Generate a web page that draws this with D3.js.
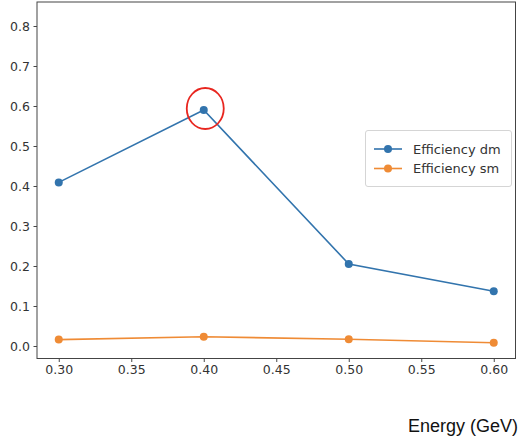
<!DOCTYPE html>
<html><head><meta charset="utf-8">
<script src="https://cdn.jsdelivr.net/npm/d3@7"></script>
<style>body{margin:0;background:#fff}svg{display:block}</style>
</head><body>
<svg id="c" width="519" height="440"></svg>
<script>
const energy = [0.30, 0.40, 0.50, 0.60];
const effDm = [0.409, 0.590, 0.205, 0.137];
const effSm = [0.016, 0.023, 0.017, 0.008];
const seriesNames = ["Efficiency dm", "Efficiency sm"];
const xTicks = [0.30, 0.35, 0.40, 0.45, 0.50, 0.55, 0.60];
const yTicks = [0.0, 0.1, 0.2, 0.3, 0.4, 0.5, 0.6, 0.7, 0.8];
const colors = ["#3274ad", "#ef8b35"];

const svg = d3.select("#c");
const L = 37, R = 515.5, T = 2, B = 358.5;
const x = d3.scaleLinear().domain([0.285, 0.615]).range([L, R]);
const y = d3.scaleLinear().domain([-0.03125, 0.86]).range([B, T]);
const font = "DejaVu Sans, sans-serif";

const xAxis = svg.append("g").attr("transform", `translate(0,${B})`)
  .call(d3.axisBottom(x).tickValues(xTicks).tickFormat(d3.format(".2f")).tickSize(3.5).tickPadding(3.5));
const yAxis = svg.append("g").attr("transform", `translate(${L},0)`)
  .call(d3.axisLeft(y).tickValues(yTicks).tickFormat(d3.format(".1f")).tickSize(3.5).tickPadding(3.5));
[xAxis, yAxis].forEach(a => {
  a.select(".domain").remove();
  a.selectAll(".tick line").attr("stroke", "#333").attr("stroke-width", 0.9);
  a.selectAll(".tick text").attr("fill", "#333").style("font-family", font).style("font-size", "12.5px");
});

svg.append("rect").attr("x", L).attr("y", T).attr("width", R - L).attr("height", B - T)
  .attr("fill", "none").attr("stroke", "#444").attr("stroke-width", 1);

const series = [effDm, effSm];
const line = d3.line().x((d, i) => x(energy[i])).y(d => y(d));
series.forEach((s, k) => {
  svg.append("path").datum(s).attr("d", line).attr("fill", "none")
    .attr("stroke", colors[k]).attr("stroke-width", 1.6);
  svg.selectAll(null).data(s).enter().append("circle")
    .attr("cx", (d, i) => x(energy[i])).attr("cy", d => y(d)).attr("r", 4)
    .attr("fill", colors[k]);
});

// red highlight ellipse around the peak
svg.append("ellipse").attr("cx", x(energy[1]) + 1.5).attr("cy", y(effDm[1]) - 1.5)
  .attr("rx", 18.5).attr("ry", 20.5).attr("fill", "none")
  .attr("stroke", "#e8261f").attr("stroke-width", 1.8);

// legend
const lg = svg.append("g");
lg.append("rect").attr("x", 365.5).attr("y", 130.5).attr("width", 146).attr("height", 56)
  .attr("rx", 2.5).attr("fill", "#fff").attr("stroke", "#d5d5d5").attr("stroke-width", 1);
seriesNames.forEach((n, k) => {
  const yy = 149 + k * 19.5;
  lg.append("line").attr("x1", 374).attr("x2", 402).attr("y1", yy).attr("y2", yy)
    .attr("stroke", colors[k]).attr("stroke-width", 1.6);
  lg.append("circle").attr("cx", 388).attr("cy", yy).attr("r", 4).attr("fill", colors[k]);
  lg.append("text").attr("x", 413).attr("y", yy + 4.5).text(n)
    .attr("fill", "#333").style("font-family", font).style("font-size", "13px");
});

svg.append("text").attr("x", 518).attr("y", 432).attr("text-anchor", "end")
  .text("Energy (GeV)").attr("fill", "#111")
  .style("font-family", "Liberation Sans, Arial, sans-serif").style("font-size", "18px");
</script>
</body></html>
